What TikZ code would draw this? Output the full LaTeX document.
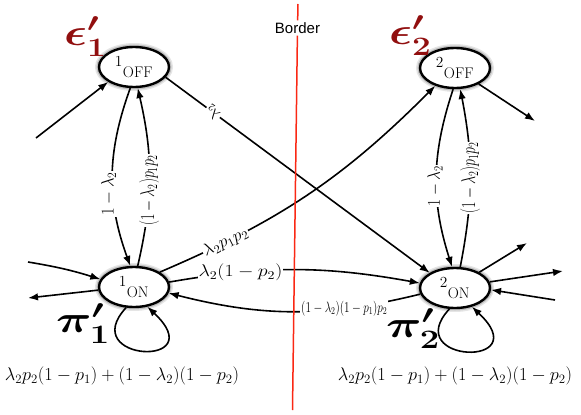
\RequirePackage{fix-cm}
\documentclass[tikz,border=0pt]{standalone}
\usepackage{fontspec}
\newfontfamily\bordfont{Liberation Sans}
\usepackage{graphicx}
\usetikzlibrary{arrows.meta,shapes.geometric}
\definecolor{epsred}{RGB}{145,15,15}
\definecolor{bordred}{RGB}{250,40,20}
\newcommand\mylab[3]{\fontsize{#1}{#1}\selectfont\scalebox{#2}[1]{$#3$}}
\tikzset{
  state/.style={draw, ellipse, line width=2.4pt, minimum width=70pt, minimum height=40pt,
    inner sep=0pt, fill=white,
    preaction={draw=black!10, line width=8pt},
    preaction={draw=black!25, line width=5pt},
    font=\fontsize{22}{22}\selectfont},
  conn/.style={line width=1.6pt, -{Latex[length=10pt,width=7.5pt]}},
  lab/.style={fill=white, inner sep=1pt},
  sidelab/.style={fill=white, inner sep=1pt, rotate=90, anchor=south, outer ysep=-4pt},
  bigsym/.style={anchor=base west, inner sep=0pt, font=\fontsize{38}{38}\selectfont\boldmath},
  formula/.style={anchor=base, inner sep=0pt, font=\fontsize{18.3}{18.3}\selectfont},
}
\begin{document}
\begin{tikzpicture}[x=1pt,y=-1pt]
\useasboundingbox (0,0) rectangle (581,415);
% states
\node[state] (off1) at (134,67) {$^{1}{}_{\mathrm{OFF}}$};
\node[state] (on1)  at (134,287) {$^{1}{}_{\mathrm{ON}}$};
\node[state] (off2) at (455,68) {$^{2}{}_{\mathrm{OFF}}$};
\node[state] (on2)  at (455,288) {$^{2}{}_{\mathrm{ON}}$};
% free ends
\coordinate (a1) at (36,138);
\coordinate (b1) at (28,262);
\coordinate (c1) at (28,298);
\coordinate (d2) at (535,121);
\coordinate (e2) at (527,243);
\coordinate (f2) at (563,271);
\coordinate (g2) at (555,300);
% border
\node[font=\bordfont\fontsize{15}{15}\selectfont, inner sep=2pt] (bord) at (297.5,28) {Border};
\coordinate (rt) at (298,4);
\coordinate (rb) at (292.5,410);
% edges node 1
\draw[conn] (a1) -- (off1.210);
\draw[conn] (off1.-100) to[bend right=20] node[sidelab,pos=0.6]{\mylab{18}{0.92}{1-\lambda_2}} (on1.100);
\draw[conn] (on1.80) to[bend right=13] node[lab,pos=0.42,rotate=90]{\mylab{20}{0.7}{(1-\lambda_2)p_1p_2}} (off1.-80);
\draw[conn] (b1) to[bend left=4] (on1.167);
\draw[conn] (on1.185) -- (c1);
\draw[conn] (on1.-111) .. controls +(-50,54) and +(66,62) .. (on1.-56);
% cross edges
\draw[conn] (off1.-18) -- node[lab,pos=0.18,rotate=144]{\mylab{15}{1}{\lambda_2}} (on2.149);
\draw[conn] (on1.30) to[bend right=11] node[lab,pos=0.2,sloped]{\mylab{17}{1.05}{\lambda_2p_1p_2}} (off2.-138);
\draw[conn] (on1.8) to[bend left=10] node[lab,pos=0.27]{\mylab{17}{1.17}{\lambda_2(1-p_2)}} (on2.172);
\draw[conn] (on2.190) to[bend left=14] node[lab,pos=0.29]{\mylab{15}{0.75}{(1-\lambda_2)(1-p_1)p_2}} (on1.-10);
% edges node 2
\draw[conn] (off2.-95) to[bend right=18] node[sidelab,pos=0.55,outer ysep=-7pt]{\mylab{18}{0.85}{1-\lambda_2}} (on2.98);
\draw[conn] (on2.76) to[bend right=11] node[lab,pos=0.5,rotate=90]{\mylab{20}{0.7}{(1-\lambda_2)p_1p_2}} (off2.-76);
\draw[conn] (off2.-34) -- (d2);
\draw[conn] (on2.33) -- (e2);
\draw[conn] (on2.10) -- (f2);
\draw[conn] (g2) -- (on2.-3);
\draw[conn] (on2.-105) .. controls +(-50,54) and +(66,62) .. (on2.-48);
% border line
\draw[bordred, line width=1.5pt] (rt) -- (bord) (bord) -- (rb);
% symbols
\node[bigsym, text=epsred] (eps1) at (64,45) {\scalebox{1.25}[1]{$\epsilon'_1$}};
\node[bigsym, text=epsred] (eps2) at (389,44) {\scalebox{1.25}[1]{$\epsilon'_2$}};
\node[bigsym] (pi1) at (56,332) {\scalebox{1.3}[1]{$\pi'_1$}};
\node[bigsym] (pi2) at (386,337) {\scalebox{1.3}[1]{$\pi'_2$}};
% formulas
\node[formula] (fa) at (122,380.5) {$\lambda_2p_2(1-p_1)+(1-\lambda_2)(1-p_2)$};
\node[formula] (fb) at (455,380.5) {$\lambda_2p_2(1-p_1)+(1-\lambda_2)(1-p_2)$};
\end{tikzpicture}
\end{document}
